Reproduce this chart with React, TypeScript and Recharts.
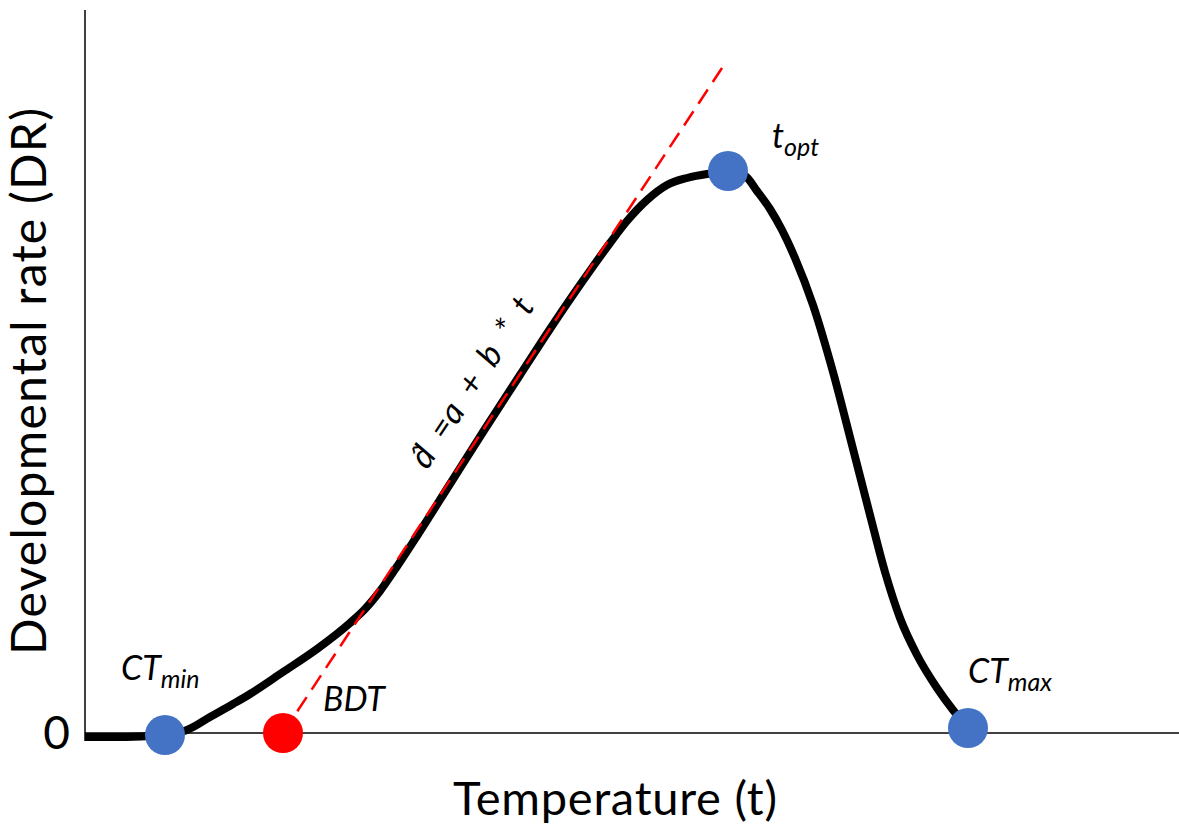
import { LineChart, Line, XAxis, YAxis, ReferenceLine, ReferenceDot } from "recharts";

// temperature (arbitrary units) and developmental rate
const TEMP = [
  0, 3.5, 6.5, 8.0, 10.2, 12.5, 14.8, 16.5, 19.8, 23.2, 26.5, 28.0, 29.5, 31.3,
  33.2, 36.5, 39.8, 43.5, 46.5, 48.8, 50.8, 52.5, 54.2, 56.2, 58.2, 60.2, 62.2,
  64.2, 66.0, 67.2, 68.5, 69.7, 71.0, 72.8, 74.8, 76.7, 78.5, 80.0, 81.5, 83.2,
  85.2, 86.8, 88.3,
];
const RATE = [
  -0.4, -0.4, -0.3, -0.2, 0.3, 1.6, 2.9, 3.9, 6.1, 8.4, 11.0, 12.4, 14.2, 16.8,
  19.7, 24.9, 30.1, 35.8, 40.4, 43.8, 46.65, 49.0, 51.2, 53.3, 54.8, 55.5, 55.9,
  56.1, 55.7, 54.2, 52.4, 50.3, 47.5, 42.8, 36.1, 28.8, 21.8, 16.1, 11.5, 7.8,
  4.5, 2.3, 0.5,
];

// linear part d = a + b*t, from BDT upwards
const TANGENT_T = [19.8, 63.7];
const TANGENT_DR = [0, 66.5];

// key temperatures
const MARKER_NAMES = ["CTmin", "BDT", "topt", "CTmax"];
const MARKER_T = [8.0, 19.8, 64.3, 88.3];
const MARKER_DR = [-0.2, 0, 56.2, 0.5];
const MARKER_COLORS = ["#4472C4", "#FF0000", "#4472C4", "#4472C4"];

const Y_TICKS = [0];

const data = TEMP.map((t, i) => ({ t, dr: RATE[i] }));

const FONT = "Lato, 'Open Sans', sans-serif";

const LABELS: Record<string, { main: string; sub: string; dx: number; dy: number }> = {
  CTmin: { main: "CT", sub: "min", dx: -44, dy: -55 },
  BDT: { main: "BDT", sub: "", dx: 40, dy: -22 },
  topt: { main: "t", sub: "opt", dx: 44, dy: -23 },
  CTmax: { main: "CT", sub: "max", dx: 0, dy: -45 },
};

function DotLabel(props: any) {
  const { viewBox, name } = props;
  if (!viewBox) return null;
  const cx = viewBox.x + (viewBox.width || 0) / 2;
  const cy = viewBox.y + (viewBox.height || 0) / 2;
  const l = LABELS[name];
  return (
    <text
      x={cx + l.dx}
      y={cy + l.dy}
      fontFamily={FONT}
      fontStyle="italic"
      fontSize={34}
      fill="#000"
    >
      {l.main}
      {l.sub && (
        <tspan fontSize={25} dy={8}>
          {l.sub}
        </tspan>
      )}
    </text>
  );
}

function EquationLabel(props: any) {
  const { viewBox } = props;
  if (!viewBox) return null;
  const x = viewBox.x + (viewBox.width || 0) / 2 - 43;
  const y = viewBox.y + (viewBox.height || 0) / 2 - 4;
  return (
    <text
      x={x}
      y={y}
      fontFamily={FONT}
      fontStyle="italic"
      fontSize={34}
      fill="#000"
      textAnchor="middle"
      dominantBaseline="central"
      style={{ whiteSpace: "pre" }}
      transform={`rotate(-56.6, ${x}, ${y})`}
    >
      {"d\u0302\u2002=a\u2002+\u2002b\u2002*\u2002t"}
    </text>
  );
}

function XTitle(props: any) {
  const { viewBox } = props;
  const x = viewBox.x + viewBox.width / 2 - 17;
  const y = viewBox.y + 74;
  return (
    <text
      x={x}
      y={y}
      fontFamily={FONT}
      fontSize={47}
      fill="#000"
      textAnchor="middle"
      textLength={324}
      lengthAdjust="spacing"
    >
      Temperature (t)
    </text>
  );
}

function YTitle(props: any) {
  const { viewBox } = props;
  const x = 46;
  const y = viewBox.y + viewBox.height / 2 + 6;
  return (
    <text
      x={x}
      y={y}
      fontFamily={FONT}
      fontSize={48}
      fill="#000"
      textAnchor="middle"
      textLength={547}
      lengthAdjust="spacing"
      transform={`rotate(-90, ${x}, ${y})`}
    >
      Developmental rate (DR)
    </text>
  );
}

export default function App() {
  return (
    <div style={{ position: "absolute", left: 0, top: 0, background: "#fff" }}>
      <LineChart
        width={1179}
        height={825}
        data={data}
        margin={{ top: 10, right: 0, bottom: 0, left: 0 }}
      >
        <XAxis
          dataKey="t"
          type="number"
          domain={[0, 109.4]}
          axisLine={false}
          tickLine={false}
          tick={false}
          height={84}
          label={{ content: (p: any) => <XTitle {...p} /> }}
        />
        <YAxis
          type="number"
          domain={[-0.8, 72.3]}
          ticks={Y_TICKS}
          width={85}
          axisLine={{ stroke: "#000", strokeWidth: 1.5 }}
          tickLine={false}
          tickMargin={9}
          tick={{ fontSize: 46, fill: "#000", fontFamily: FONT }}
          label={{ content: (p: any) => <YTitle {...p} /> }}
        />
        <ReferenceLine y={0} stroke="#000" strokeWidth={1.5} />
        <Line
          dataKey="dr"
          type="monotone"
          stroke="#000"
          strokeWidth={8}
          dot={false}
          activeDot={false}
          isAnimationActive={false}
        />
        <ReferenceLine
          segment={[
            { x: TANGENT_T[0], y: TANGENT_DR[0] },
            { x: TANGENT_T[1], y: TANGENT_DR[1] },
          ]}
          stroke="#FF0000"
          strokeWidth={2.5}
          strokeDasharray="17 9"
          zIndex={600}
        />
        <ReferenceDot
          x={42.8}
          y={34.8}
          r={0}
          fill="none"
          stroke="none"
          label={<EquationLabel />}
          zIndex={700}
        />
        {MARKER_NAMES.map((n, i) => (
          <ReferenceDot
            key={n}
            x={MARKER_T[i]}
            y={MARKER_DR[i]}
            r={20}
            fill={MARKER_COLORS[i]}
            stroke="none"
            label={<DotLabel name={n} />}
            zIndex={700}
          />
        ))}
      </LineChart>
    </div>
  );
}
